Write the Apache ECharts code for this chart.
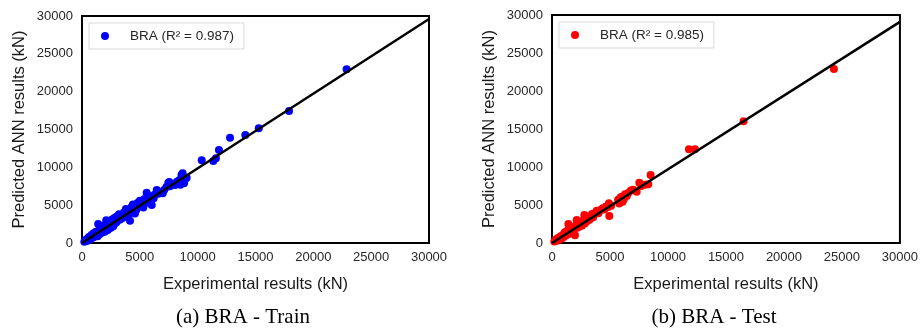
<!DOCTYPE html>
<html>
<head>
<meta charset="utf-8">
<script src="https://cdn.jsdelivr.net/npm/echarts@6/dist/echarts.min.js"></script>
<style>
  html, body { margin: 0; padding: 0; background: #fff; }
  #chart { width: 921px; height: 331px; }
</style>
</head>
<body>
<div id="chart"></div>
<script>
// scatter data: [experimental, predicted] in kN
const trainPoints = [
  [200,150],[300,400],[400,250],[500,600],[550,350],[600,800],[700,500],[750,900],[800,650],[850,1100],
  [900,700],[950,1000],[1000,1300],[1050,800],[1100,1200],[1150,950],[1200,1500],[1250,1100],[1300,1400],[1350,900],
  [1400,2500],[1450,1300],[1500,1700],[1550,1200],[1600,2000],[1650,1500],[1700,1800],[1750,1400],[1800,2200],[1850,1600],
  [1900,1900],[1950,1500],[2000,2400],[2050,1800],[2100,3000],[2150,2100],[2200,1700],[2250,2600],[2300,2200],[2350,1900],
  [2400,2800],[2450,2300],[2500,2000],[2550,2700],[2600,3100],[2650,2400],[2700,2200],[2750,2900],[2800,3300],[2850,2600],
  [2900,3000],[2950,2700],[3000,3500],[3050,2900],[3100,3200],[3200,3800],[3300,3100],[3400,3600],[3500,3300],[3600,4000],
  [3700,3500],[3800,4500],[3900,3700],[4000,4100],[4100,3900],[4150,2950],[4200,4300],[4300,4800],[4400,5100],[4500,4200],
  [4580,3900],[4600,4700],[4700,4400],[4800,5300],[4900,4900],[5000,5600],[5100,5000],[5200,5400],[5300,4700],[5400,5800],
  [5500,5300],[5590,6650],[5700,5500],[5800,6000],[5900,5400],[6030,5020],[6100,6200],[6200,5900],[6300,6400],[6460,7000],
  [6600,6500],[6800,6700],[6980,6570],[7100,7000],[7300,7400],[7460,7970],[7550,8050],[7600,7500],[7800,7800],[8040,7660],
  [8200,8100],[8400,8300],[8500,7700],[8600,9000],[8700,9210],[8820,7890],[8900,8400],[9050,8630],[10350,10930],[11350,10840],
  [11580,11190],[11840,12290],[12800,13920],[14120,14270],[15280,15160],[17900,17450],[22880,22950]
];
const testPoints = [
  [200,200],[350,500],[450,300],[550,700],[650,450],[750,900],[850,600],[950,1100],[1000,800],[1100,1400],
  [1200,1000],[1300,1600],[1410,2500],[1450,1200],[1550,1800],[1650,1400],[1750,2000],[1850,1700],[1980,1010],[2050,2300],
  [2130,3030],[2200,2000],[2300,2600],[2400,2200],[2500,2800],[2600,2300],[2700,3000],[2790,3680],[2850,2600],[2950,3200],
  [3050,2900],[3150,3400],[3250,3100],[3360,3550],[3450,3800],[3550,3400],[3700,3900],[3850,4250],[4000,3900],[4150,4300],
  [4370,4560],[4500,4400],[4650,4800],[4800,4700],[4910,5220],[4940,3550],[5100,4900],[5700,5700],[5800,5200],[5900,6000],
  [6010,6100],[6090,5440],[6200,5800],[6300,6400],[6450,6200],[6580,6580],[6800,6900],[7000,7000],[7300,6750],[7530,7940],
  [7700,7500],[8020,7680],[8300,7720],[8500,8950],[11810,12330],[12330,12330],[16520,16010],[24310,22890]
];
// fitted lines
const trainFit = [[0, 0], [30000, 29600]];
const testFit = [[0, 0], [30000, 29100]];

const legendNames = ['BRA (R\u00b2 = 0.987)', 'BRA (R\u00b2 = 0.985)'];
const captions = ['(a) BRA - Train', '(b) BRA - Test'];
const xTitle = 'Experimental results (kN)';
const yTitle = 'Predicted ANN results (kN)';

const font = '"Liberation Sans", Arial, sans-serif';
const serif = '"Liberation Serif", "Times New Roman", serif';

const makeX = (gridIndex) => ({
  type: 'value', gridIndex: gridIndex, min: 0, max: 30000, interval: 5000,
  name: xTitle, nameLocation: 'middle', nameGap: 33,
  nameTextStyle: { color: '#1a1a1a', fontSize: 16.5, fontFamily: font },
  axisLine: { show: false }, axisTick: { show: false }, splitLine: { show: false },
  axisLabel: { color: '#262626', fontSize: 13, fontFamily: font, margin: 8, formatter: (v) => String(v) }
});
const makeY = (gridIndex) => ({
  type: 'value', gridIndex: gridIndex, min: 0, max: 30000, interval: 5000,
  name: yTitle, nameLocation: 'middle', nameGap: 54,
  nameTextStyle: { color: '#1a1a1a', fontSize: 16.5, fontFamily: font },
  axisLine: { show: false }, axisTick: { show: false }, splitLine: { show: false },
  axisLabel: { color: '#262626', fontSize: 13, fontFamily: font, margin: 9, formatter: (v) => String(v) }
});
const makeLegend = (name, left, top) => ({
  data: [name], left: left, top: top,
  orient: 'horizontal', padding: [6, 10, 6, 12],
  borderColor: '#d9d9d9', borderWidth: 1, borderRadius: 0,
  itemWidth: 10, itemHeight: 8, icon: 'circle',
  selectedMode: false,
  textStyle: { color: '#262626', fontSize: 13.5, fontFamily: font, padding: [0, 0, 0, 15] }
});

const chart = echarts.init(document.getElementById('chart'));
chart.setOption({
  backgroundColor: '#fff',
  animation: false,
  title: [
    { text: captions[0], left: 238, top: 302, textAlign: 'center',
      textStyle: { fontFamily: serif, fontWeight: 'normal', fontSize: 21, color: '#000' } },
    { text: captions[1], left: 709, top: 302, textAlign: 'center',
      textStyle: { fontFamily: serif, fontWeight: 'normal', fontSize: 21, color: '#000' } }
  ],
  legend: [makeLegend(legendNames[0], 89, 23), makeLegend(legendNames[1], 559, 22)],
  grid: [
    { left: 82, top: 16, width: 347, height: 227, show: true, borderColor: '#000', borderWidth: 2, backgroundColor: 'transparent' },
    { left: 552, top: 15, width: 348, height: 228, show: true, borderColor: '#000', borderWidth: 2, backgroundColor: 'transparent' }
  ],
  xAxis: [makeX(0), makeX(1)],
  yAxis: [makeY(0), makeY(1)],
  series: [
    { name: legendNames[0], type: 'scatter', xAxisIndex: 0, yAxisIndex: 0, data: trainPoints,
      symbolSize: 8, itemStyle: { color: '#0000ff', opacity: 1 } },
    { type: 'line', xAxisIndex: 0, yAxisIndex: 0, data: trainFit, showSymbol: false, silent: true, z: 5,
      lineStyle: { color: '#000', width: 2.5 } },
    { name: legendNames[1], type: 'scatter', xAxisIndex: 1, yAxisIndex: 1, data: testPoints,
      symbolSize: 8, itemStyle: { color: '#ff0000', opacity: 1 } },
    { type: 'line', xAxisIndex: 1, yAxisIndex: 1, data: testFit, showSymbol: false, silent: true, z: 5,
      lineStyle: { color: '#000', width: 2.5 } }
  ]
});
</script>
</body>
</html>
